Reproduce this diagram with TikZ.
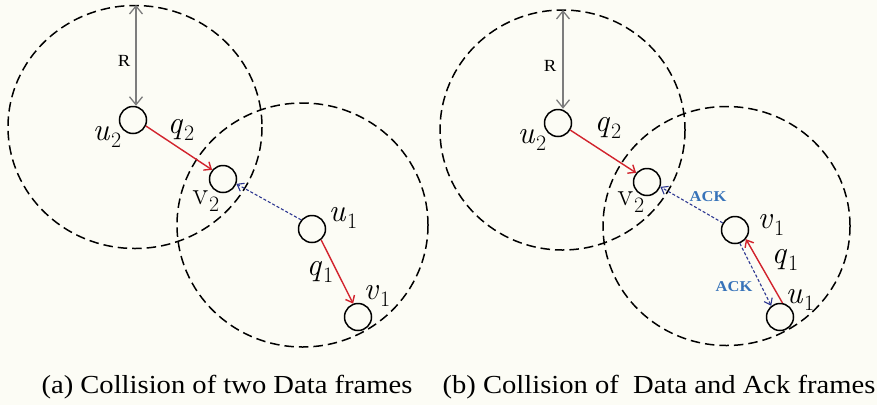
\documentclass[tikz,border=0pt]{standalone}
\usepackage{fontspec}
\newfontfamily\capfont[FakeStretch=1.1]{Liberation Serif}
\usetikzlibrary{arrows.meta}
\definecolor{bgc}{RGB}{252,252,245}
\definecolor{redarr}{RGB}{210,35,45}
\definecolor{bluearr}{RGB}{45,55,145}
\definecolor{acktext}{RGB}{55,115,185}
\definecolor{grayarr}{RGB}{125,125,125}
\newcommand{\vlab}[2]{\textit{#1}\kern1pt\raisebox{-7pt}{\fontsize{22}{24}\selectfont #2}}
\newcommand{\uplab}[2]{#1\kern1pt\raisebox{-7pt}{\fontsize{22}{24}\selectfont #2}}
\begin{document}
\begin{tikzpicture}[x=1pt,y=-1pt,
  rangecirc/.style={draw=black, line width=1.5pt, dash pattern=on 9.5pt off 5pt},
  nd/.style={circle, draw=black, line width=1.5pt, minimum size=27pt, inner sep=0pt},
  mlab/.style={inner sep=0pt, font=\fontsize{32}{34}\selectfont},
  rlab/.style={inner sep=0pt, font=\capfont\fontsize{17}{19}\selectfont},
  acklab/.style={inner sep=0pt, text=acktext, font=\capfont\bfseries\fontsize{15}{17}\selectfont},
  captxt/.style={inner sep=0pt, anchor=base, font=\capfont\fontsize{26}{30}\selectfont},
  dataarr/.style={draw=redarr, line width=1.4pt, -{Straight Barb[length=6pt,width=10pt]}},
  ackarr/.style={draw=bluearr, line width=1.1pt, dash pattern=on 3pt off 2pt, -{Straight Barb[length=6pt,width=9pt]}},
  rarr/.style={draw=grayarr, line width=1.3pt, {Straight Barb[length=8pt,width=13pt]}-{Straight Barb[length=8pt,width=13pt]}}
]
\fill[bgc] (0,0) rectangle (877,405);
\useasboundingbox (0,0) rectangle (877,405);

% ---------- panel (a) ----------
\draw[rangecirc] (135,127) ellipse [x radius=127, y radius=121.5];
\draw[rangecirc] (302.5,225) ellipse [x radius=125.5, y radius=122];
\node[nd] (a-u2) at (133,120) {};
\node[nd] (a-v2) at (223,179) {};
\node[nd] (a-u1) at (312,229) {};
\node[nd] (a-v1) at (358,317) {};
\coordinate (a-top) at (136,5);
\draw[rarr] (a-top) -- (a-top |- a-u2.north);
\node[rlab] (a-R) at (124,61) {R};
\node[mlab] (a-lu2) at (107,137) {\vlab{u}{2}};
\node[mlab] (a-lq2) at (181,130) {\vlab{q}{2}};
\node[mlab] (a-lv2) at (206,201) {\uplab{v}{2}};
\node[mlab] (a-lu1) at (343,218) {\vlab{u}{1}};
\node[mlab] (a-lq1) at (320,272) {\vlab{q}{1}};
\node[mlab] (a-lv1) at (377,296) {\vlab{v}{1}};
\draw[dataarr] (a-u2.-25) -- (a-v2.140);
\draw[ackarr] (a-u1.140) -- (a-v2.-20);
\draw[dataarr] (a-u1.-50) -- (a-v1.110);
\node[captxt] (a-cap) at (227,393) {(a) Collision of two Data frames};

% ---------- panel (b) ----------
\draw[rangecirc] (562.5,130) ellipse [x radius=122.5, y radius=120];
\draw[rangecirc] (726.5,226) ellipse [x radius=123.5, y radius=119.5];
\node[nd] (b-u2) at (558,123) {};
\node[nd] (b-v2) at (647,182) {};
\node[nd] (b-v1) at (735,230) {};
\node[nd] (b-u1) at (780,317) {};
\coordinate (b-top) at (563,10);
\draw[rarr] (b-top) -- (b-top |- b-u2.north);
\node[rlab] (b-R) at (550,66) {R};
\node[mlab] (b-lu2) at (532,140) {\vlab{u}{2}};
\node[mlab] (b-lq2) at (608,128) {\vlab{q}{2}};
\node[mlab] (b-lv2) at (631,202) {\uplab{v}{2}};
\node[mlab] (b-lv1) at (771,225) {\vlab{v}{1}};
\node[mlab] (b-lq1) at (785,260) {\vlab{q}{1}};
\node[mlab] (b-lu1) at (800,300) {\vlab{u}{1}};
\node[acklab] (b-ack1) at (708,197) {ACK};
\node[acklab] (b-ack2) at (734,287) {ACK};
\draw[dataarr] (b-u2.-30) -- (b-v2.140);
\draw[ackarr] (b-v1.150) -- (b-v2.-20);
\draw[dataarr] (b-u1.80) -- (b-v1.-40);
\draw[ackarr] (b-v1.-70) -- (b-u1.128);
\node[captxt] (b-cap) at (659,393) {(b) Collision of\ \ Data and Ack frames};
\end{tikzpicture}
\end{document}
